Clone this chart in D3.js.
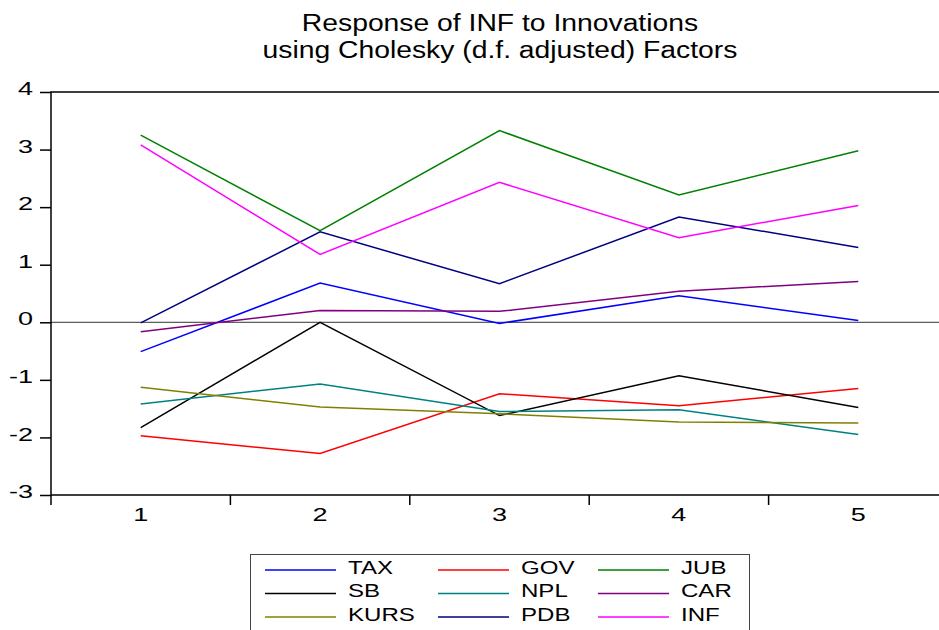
<!DOCTYPE html>
<html>
<head>
<meta charset="utf-8">
<script src="https://cdn.jsdelivr.net/npm/d3@7"></script>
<style>
  body { margin: 0; background: #fff; }
  svg { display: block; font-family: "Liberation Sans", Arial, sans-serif; }
</style>
</head>
<body>
<div id="chart"></div>
<script>
// periods of the impulse response
var periods = [1, 2, 3, 4, 5];

// response of INF to each innovation
var TAX  = [-0.51, 0.68, -0.02, 0.46, 0.03];
var GOV  = [-1.97, -2.28, -1.24, -1.45, -1.15];
var JUB  = [3.25, 1.59, 3.33, 2.21, 2.98];
var SB   = [-1.83, 0.00, -1.62, -0.93, -1.48];
var NPL  = [-1.42, -1.07, -1.55, -1.52, -1.95];
var CAR  = [-0.165, 0.205, 0.19, 0.54, 0.71];
var KURS = [-1.13, -1.47, -1.59, -1.73, -1.75];
var PDB  = [-0.01, 1.57, 0.67, 1.83, 1.30];
var INF  = [3.08, 1.18, 2.43, 1.47, 2.03];

var seriesNames = ["TAX", "GOV", "JUB", "SB", "NPL", "CAR", "KURS", "PDB", "INF"];
var seriesValues = [TAX, GOV, JUB, SB, NPL, CAR, KURS, PDB, INF];
var seriesColors = ["#0000ff", "#ff0000", "#008000", "#000000", "#008080", "#800080", "#808000", "#000080", "#ff00ff"];

var yTicks = [-3, -2, -1, 0, 1, 2, 3, 4];
var titleLines = ["Response of INF to Innovations", "using Cholesky (d.f. adjusted) Factors"];

var width = 939, height = 630;
var margin = {left: 51, top: 92, bottom: 495};
var step = 179.4;

var svg = d3.select("#chart").append("svg")
  .attr("width", width)
  .attr("height", height);

// the picture is stretched sideways, so text is widened a bit
function stretch(sel, k) {
  sel.each(function() {
    var len = this.getComputedTextLength();
    d3.select(this).attr("textLength", len * k).attr("lengthAdjust", "spacingAndGlyphs");
  });
}

var x = d3.scaleBand().domain(periods).range([margin.left, margin.left + step * periods.length]);
var y = d3.scaleLinear().domain([-3, 4]).range([margin.bottom, margin.top]);

// title
svg.selectAll(".title")
  .data(titleLines)
  .enter().append("text")
  .attr("class", "title")
  .attr("x", 500)
  .attr("y", (d, i) => 31 + i * 27)
  .attr("text-anchor", "middle")
  .attr("font-size", 23)
  .text(d => d)
  .call(stretch, 1.23);

// zero line
svg.append("line")
  .attr("x1", margin.left).attr("x2", width)
  .attr("y1", y(0)).attr("y2", y(0))
  .attr("stroke", "#333").attr("stroke-width", 1);

// lines
var line = d3.line()
  .x((d, i) => x(periods[i]) + x.bandwidth() / 2)
  .y(d => y(d));

svg.selectAll(".series")
  .data(seriesValues)
  .enter().append("path")
  .attr("class", "series")
  .attr("d", line)
  .attr("fill", "none")
  .attr("stroke", (d, i) => seriesColors[i])
  .attr("stroke-width", 1.5);

// frame
svg.append("path")
  .attr("d", "M" + width + "," + margin.top + "H" + margin.left + "V" + margin.bottom + "H" + width)
  .attr("fill", "none")
  .attr("stroke", "#000")
  .attr("stroke-width", 1.5);

// y axis
var yAxis = svg.append("g")
  .attr("transform", "translate(" + margin.left + ",0)")
  .call(d3.axisLeft(y).tickValues(yTicks).tickFormat(d => String(d)).tickSize(11).tickPadding(7));
yAxis.select(".domain").remove();
yAxis.selectAll("line").attr("stroke", "#000").attr("stroke-width", 1.5);
yAxis.selectAll("text")
  .attr("font-family", "Liberation Sans, Arial, sans-serif")
  .attr("font-size", 18)
  .attr("fill", "#000")
  .attr("dy", "0.15em")
  .call(stretch, 1.5);

// x axis ticks at band edges, labels at band centres
svg.selectAll(".xtick")
  .data(periods)
  .enter().append("line")
  .attr("class", "xtick")
  .attr("x1", d => x(d)).attr("x2", d => x(d))
  .attr("y1", margin.bottom).attr("y2", margin.bottom + 10)
  .attr("stroke", "#000").attr("stroke-width", 1.5);

svg.selectAll(".xlabel")
  .data(periods)
  .enter().append("text")
  .attr("class", "xlabel")
  .attr("x", d => x(d) + x.bandwidth() / 2)
  .attr("y", 521)
  .attr("text-anchor", "middle")
  .attr("font-size", 18)
  .text(d => d)
  .call(stretch, 1.5);

// legend
var legend = svg.append("g");
legend.append("rect")
  .attr("x", 250.5).attr("y", 554.5)
  .attr("width", 499).attr("height", 90)
  .attr("fill", "#fff")
  .attr("stroke", "#444").attr("stroke-width", 1);

var colX = [265, 438, 598];
var rowY = [570, 593.5, 617];

var items = legend.selectAll(".item")
  .data(seriesNames)
  .enter().append("g")
  .attr("class", "item")
  .attr("transform", (d, i) => "translate(" + colX[i % 3] + "," + rowY[Math.floor(i / 3)] + ")");

items.append("line")
  .attr("x1", 0).attr("x2", 71)
  .attr("stroke", (d, i) => seriesColors[i])
  .attr("stroke-width", 1.5);

items.append("text")
  .attr("x", 83)
  .attr("y", 3.5)
  .attr("font-size", 18.5)
  .text(d => d)
  .call(stretch, 1.3);
</script>
</body>
</html>
